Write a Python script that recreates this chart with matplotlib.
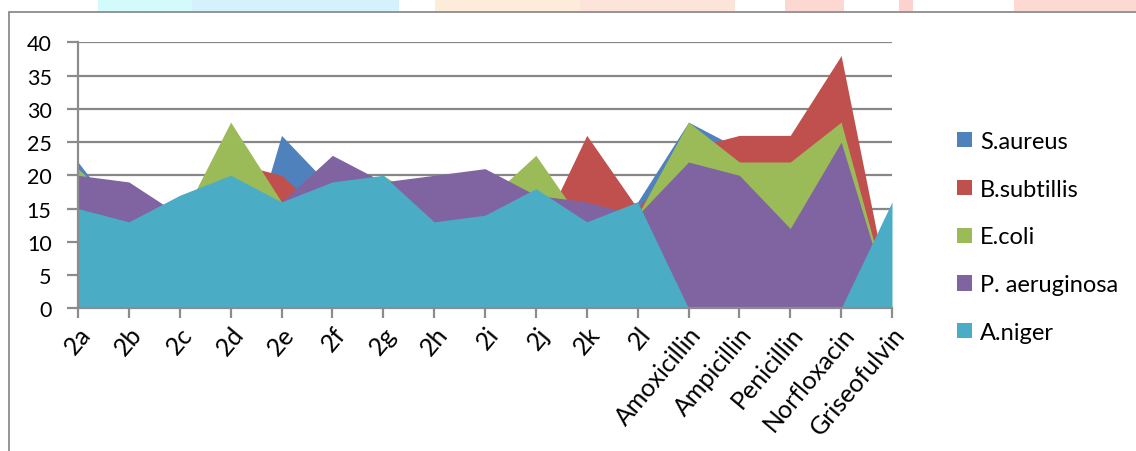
import matplotlib
matplotlib.use("Agg")
import matplotlib.pyplot as plt
from matplotlib.patches import Rectangle, Patch
import numpy as np

# Category labels (x axis)
categories = ['2a', '2b', '2c', '2d', '2e', '2f', '2g', '2h', '2i', '2j', '2k', '2l',
              'Amoxicillin', 'Ampicillin', 'Penicillin', 'Norfloxacin', 'Griseofulvin']

# Series values (drawn back to front)
s_aureus     = [22, 12, 14, 0, 26, 18, 15, 12, 14, 15, 14, 16, 28, 24, 24, 30, 0]
b_subtillis  = [18, 15, 14, 22, 20, 13, 15, 12, 14, 10, 26, 15, 24, 26, 26, 38, 0]
e_coli       = [21, 14, 13, 28, 16, 18, 20, 15, 16, 23, 12, 14, 28, 22, 22, 28, 0]
p_aeruginosa = [20, 19, 14, 18, 16, 23, 19, 20, 21, 17, 16, 14, 22, 20, 12, 25, 0]
a_niger      = [15, 13, 17, 20, 16, 19, 20, 13, 14, 18, 13, 16, 0, 0, 0, 0, 16]

series_names = ['S.aureus', 'B.subtillis', 'E.coli', 'P. aeruginosa', 'A.niger']
series_vals = [s_aureus, b_subtillis, e_coli, p_aeruginosa, a_niger]
colors = ['#4F81BD', '#C0504D', '#9BBB59', '#8064A2', '#4BACC6']

plt.rcParams['font.family'] = ['Lato', 'DejaVu Sans']

W, H = 1136, 452
fig = plt.figure(figsize=(W / 100, H / 100), dpi=100)
fig.patch.set_facecolor('white')

# faint page decoration at the very top
blobs = [(98, 192, '#d4fbfc'), (192, 399, '#d5f2fc'), (435, 580, '#fdecd9'),
         (580, 735, '#fde4da'), (785, 844, '#fdd8d2'), (899, 913, '#fbd3cc'),
         (1014, 1136, '#fdd9d3')]
for x0, x1, c in blobs:
    fig.add_artist(Rectangle((x0 / W, 1 - 12 / H), (x1 - x0) / W, 12 / H,
                             transform=fig.transFigure, color=c, lw=0))

# chart frame
grey = '#8c8c8c'
fig.add_artist(Rectangle((9 / W, -0.05), 1.2, 1 - 12.5 / H + 0.05, transform=fig.transFigure,
                         fill=False, ec=grey, lw=1.3))

ax = fig.add_axes([78 / W, 1 - 309.3 / H, (892 - 78) / W, (309.3 - 43.3) / H])
x = np.arange(len(categories))

for vals, c in zip(series_vals, colors):
    ax.fill_between(x, 0, vals, color=c, lw=0, zorder=2)

ax.set_xlim(0, len(categories) - 1)
ax.set_ylim(0, 40)
ax.set_yticks(range(0, 41, 5))
ax.yaxis.grid(True, color='#878787', lw=1.6, zorder=1)
ax.set_axisbelow(True)

ax.set_xticks(x)
ax.set_xticklabels(categories, rotation=50, ha='right', va='top', rotation_mode='anchor')

for side in ['top', 'right']:
    ax.spines[side].set_visible(False)
for side in ['left', 'bottom']:
    ax.spines[side].set_color(grey)
    ax.spines[side].set_linewidth(1.6)
    ax.spines[side].set_zorder(3)

ax.tick_params(axis='y', length=8, width=1.6, color=grey, labelsize=15.5, pad=11)
ax.tick_params(axis='x', length=7, width=1.6, color=grey, labelsize=18, pad=3)

handles = [Patch(facecolor=c, edgecolor='none') for c in colors]
fig.legend(handles, series_names, loc='center left', bbox_to_anchor=(957 / W, 1 - 238 / H),
           frameon=False, fontsize=17, handlelength=0.62, handleheight=0.62,
           handletextpad=0.35, labelspacing=1.13, borderpad=0, borderaxespad=0)

fig.savefig('out.png', dpi=100)
